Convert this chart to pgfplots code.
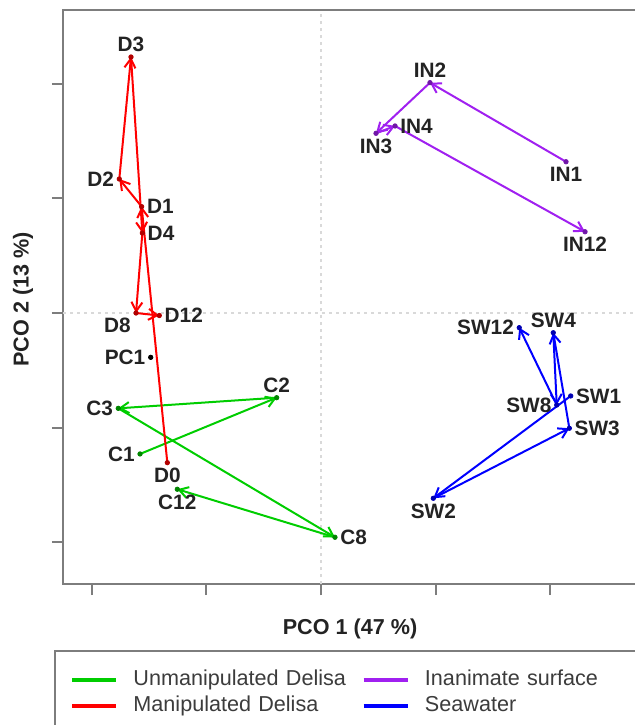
\documentclass[border=0pt]{standalone}
\usepackage{fontspec}
\setmainfont{Liberation Sans}
\usepackage{pgfplots}
\usepackage{pgfplotstable}
\pgfplotsset{compat=1.18}
\usetikzlibrary{arrows.meta, decorations.pathreplacing}

\definecolor{cgreen}{RGB}{0,205,0}
\definecolor{cred}{RGB}{255,0,0}
\definecolor{cpurple}{RGB}{160,32,240}
\definecolor{cblue}{RGB}{0,0,255}
\definecolor{framegray}{RGB}{125,125,125}
\definecolor{labgray}{RGB}{35,35,35}
\definecolor{leggray}{RGB}{60,60,60}

\newcommand\lblfont{\fontsize{10.4}{12}\selectfont\bfseries}
\newcommand\axfont{\fontsize{10.8}{13}\selectfont\bfseries}
\newcommand\legfont{\fontsize{10.8}{13}\selectfont}

% samples of each group, in time order
\pgfplotstableread{
x      y      lab
-1.579 -1.230 C1
-0.387 -0.739 C2
-1.769 -0.832 C3
 0.122 -1.957 C8
-1.254 -1.538 C12
}\unmanip

\pgfplotstableread{
x      y      lab
-1.341 -1.306 D0
-1.565  0.928 D1
-1.760  1.169 D2
-1.658  2.234 D3
-1.559  0.698 D4
-1.614  0.000 D8
-1.411 -0.022 D12
}\manip

\pgfplotstableread{
x      y      lab
 2.138  1.320 IN1
 0.951  2.010 IN2
 0.480  1.568 IN3
 0.646  1.632 IN4
 2.304  0.709 IN12
}\inanim

\pgfplotstableread{
x      y      lab
 2.179 -0.724 SW1
 0.980 -1.617 SW2
 2.167 -1.006 SW3
 2.027 -0.172 SW4
 2.057 -0.803 SW8
 1.730 -0.128 SW12
}\seawater

\pgfplotstableread{
x      y      lab
-1.486 -0.387 PC1
}\pcone

% sample names, by the side of the point they are set on
\pgfplotstableread{
x      y      lab
-1.579 -1.230 C1
-1.769 -0.832 C3
-1.760  1.169 D2
 2.057 -0.803 SW8
 1.730 -0.128 SW12
-1.486 -0.387 PC1
}\labwest

\pgfplotstableread{
x      y      lab
 0.122 -1.957 C8
-1.565  0.928 D1
-1.559  0.698 D4
-1.411 -0.022 D12
 0.646  1.632 IN4
 2.179 -0.724 SW1
 2.167 -1.006 SW3
}\labeast

\pgfplotstableread{
x      y      lab
-0.387 -0.739 C2
-1.658  2.234 D3
 0.951  2.010 IN2
 2.027 -0.172 SW4
}\labnorth

\pgfplotstableread{
x      y      lab
-1.254 -1.538 C12
-1.341 -1.306 D0
 2.138  1.320 IN1
 0.480  1.568 IN3
 2.304  0.709 IN12
 0.980 -1.617 SW2
}\labsouth

\pgfplotstableread{
x      y      lab
-1.614  0.000 D8
}\labsouthwest

\begin{document}
\begin{tikzpicture}
\useasboundingbox (0,0) rectangle (317.5pt,-362.5pt);
\clip (0,0) rectangle (317.5pt,-362.5pt);
\begin{axis}[
  at={(31.5pt,-292pt)}, anchor=south west,
  scale only axis, width=287pt, height=287pt,
  xmin=-2.2513, xmax=2.7574, ymin=-2.365, ymax=2.644,
  axis line style={framegray, line width=1pt},
  xtick={-2,-1,0,1,2}, ytick={-2,-1,0,1,2},
  xticklabels={}, yticklabels={},
  tick pos=left, tick align=outside, major tick length=5.5pt,
  every tick/.style={framegray, line width=1pt},
  extra x ticks={0}, extra y ticks={0},
  extra x tick labels={}, extra y tick labels={},
  extra tick style={grid=major, major grid style={gray!30, line width=0.7pt, dash pattern=on 1.5pt off 2pt}},
  xlabel={PCO 1 (47 \%)}, ylabel={PCO 2 (13 \%)},
  label style={font=\axfont, text=labgray},
  xlabel style={at={(axis description cs:0.5,-0.0785)}, anchor=center},
  ylabel style={at={(axis description cs:-0.0697,0.4956)}, anchor=center},
  legend columns=2, transpose legend,
  legend image code/.code={\draw[#1, -, line width=2.25pt] (0pt,0pt) -- (22pt,0pt);},
  legend style={at={(axis description cs:-0.0157,-0.115)}, anchor=north west,
    draw=framegray, line width=1pt, fill=white, font=\legfont, text=leggray,
    inner xsep=7.5pt, inner ysep=9.4pt, row sep=3pt,
    nodes={inner sep=0pt, text height=8pt, text depth=2pt},
    cells={anchor=west},
    /tikz/every odd column/.append style={column sep=7.5pt},
    /tikz/every even column/.append style={column sep=2pt, text width=112pt}},
  arrowpath/.style={no marks, forget plot,
    decoration={show path construction,
      lineto code={\draw[#1, line width=1pt, -{Straight Barb[length=4.5pt,width=5.5pt]}]
        (\tikzinputsegmentfirst) -- (\tikzinputsegmentlast);}},
    decorate},
  dots/.style={only marks, mark=*, mark size=1.1pt, forget plot},
  names/.style={only marks, mark=none, forget plot,
    point meta=explicit symbolic, nodes near coords,
    every node near coord/.append style={anchor=#1, font=\lblfont, text=labgray, inner sep=2.5pt}},
]
\addlegendimage{cgreen}
\addlegendentry{Unmanipulated Delisa}
\addlegendimage{cred}
\addlegendentry{Manipulated Delisa}
\addlegendimage{cpurple}
\addlegendentry{Inanimate surface}
\addlegendimage{cblue}
\addlegendentry{Seawater}

\addplot[arrowpath=cgreen] table[x=x, y=y] {\unmanip};
\addplot[arrowpath=cred] table[x=x, y=y] {\manip};
\addplot[arrowpath=cpurple] table[x=x, y=y] {\inanim};
\addplot[arrowpath=cblue] table[x=x, y=y] {\seawater};

\addplot[dots, cgreen!65!black] table[x=x, y=y] {\unmanip};
\addplot[dots, cred!70!black] table[x=x, y=y] {\manip};
\addplot[dots, cpurple!70!black] table[x=x, y=y] {\inanim};
\addplot[dots, cblue!70!black] table[x=x, y=y] {\seawater};
\addplot[dots, black] table[x=x, y=y] {\pcone};

\addplot[names=east] table[x=x, y=y, meta=lab] {\labwest};
\addplot[names=west] table[x=x, y=y, meta=lab] {\labeast};
\addplot[names=south] table[x=x, y=y, meta=lab] {\labnorth};
\addplot[names=north] table[x=x, y=y, meta=lab] {\labsouth};
\addplot[names=north east] table[x=x, y=y, meta=lab] {\labsouthwest};
\end{axis}
\end{tikzpicture}
\end{document}
